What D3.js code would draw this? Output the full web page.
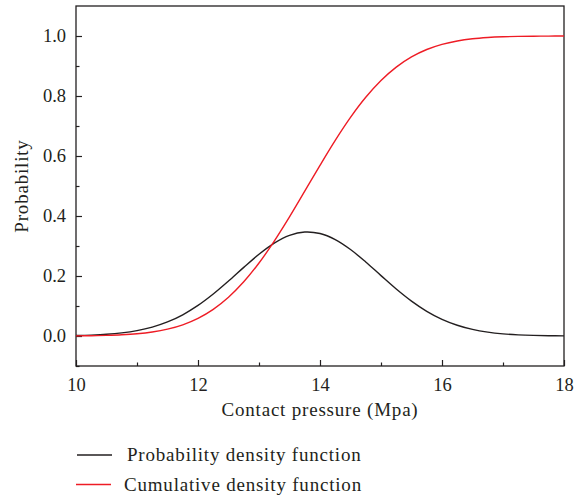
<!DOCTYPE html>
<html>
<head>
<meta charset="utf-8">
<script src="https://cdn.jsdelivr.net/npm/d3@7"></script>
<style>
  body { margin: 0; background: #fff; }
  text { font-family: "Liberation Serif", "DejaVu Serif", serif; fill: #231f20; }
  .label { font-size: 19px; letter-spacing: 0.8px; }
</style>
</head>
<body>
<div id="chart"></div>
<script>
// contact pressure (Mpa)
const pressure = [10, 10.25, 10.5, 10.75, 11, 11.25, 11.5, 11.75, 12, 12.25, 12.5, 12.75,
    13, 13.25, 13.5, 13.75, 14, 14.25, 14.5, 14.75, 15, 15.25, 15.5, 15.75,
    16, 16.25, 16.5, 16.75, 17, 17.25, 17.5, 17.75, 18];

// probability density function
const pdfValues = [0.0015, 0.0030, 0.0056, 0.0103, 0.0179, 0.0297, 0.0469, 0.0708, 0.1019,
    0.1399, 0.1831, 0.2287, 0.2723, 0.3094, 0.3353, 0.3466, 0.3417, 0.3213, 0.2882,
    0.2466, 0.2013, 0.1567, 0.1164, 0.0824, 0.0556, 0.0359, 0.0220, 0.0129, 0.0072,
    0.0039, 0.0020, 0.0010, 0.0004];

// cumulative density function
const cdfValues = [0.0005, 0.0010, 0.0021, 0.0040, 0.0074, 0.0133, 0.0228, 0.0373, 0.0588,
    0.0888, 0.1292, 0.1806, 0.2432, 0.3163, 0.3970, 0.4827, 0.5690, 0.6522, 0.7287,
    0.7956, 0.8516, 0.8963, 0.9303, 0.9550, 0.9721, 0.9834, 0.9906, 0.9948, 0.9973,
    0.9987, 0.9994, 0.9997, 0.9999];

const xTicks = [10, 12, 14, 16, 18];
const xMinorTicks = [11, 13, 15, 17];
const yTicks = [0.0, 0.2, 0.4, 0.6, 0.8, 1.0];
const yMinorTicks = [-0.1, 0.1, 0.3, 0.5, 0.7, 0.9];

const seriesNames = ["Probability density function", "Cumulative density function"];
const seriesColors = ["#231f20", "#ee1c25"];

const W = 576, H = 500;
const margin = {top: 6, right: 12, bottom: 134, left: 76};
const width = W - margin.left - margin.right;
const height = H - margin.top - margin.bottom;

const svg = d3.select("#chart").append("svg")
    .attr("width", W)
    .attr("height", H);

const g = svg.append("g")
    .attr("transform", `translate(${margin.left},${margin.top})`);

const x = d3.scaleLinear().domain([10, 18]).range([0, width]);
const y = d3.scaleLinear().domain([-0.1, 1.1]).range([height, 0]);

g.append("clipPath").attr("id", "clip")
    .append("rect").attr("width", width).attr("height", height);

// axes, ticks pointing inward
g.append("g")
    .attr("transform", `translate(0,${height})`)
    .call(d3.axisBottom(x).tickValues(xTicks).tickSize(-6).tickPadding(12).tickFormat(d3.format("d")));
g.append("g")
    .attr("transform", `translate(0,${height})`)
    .call(d3.axisBottom(x).tickValues(xMinorTicks).tickSize(-3.5).tickFormat(""));

g.append("g")
    .call(d3.axisLeft(y).tickValues(yTicks).tickSize(-6).tickPadding(10).tickFormat(d3.format(".1f")));
g.append("g")
    .call(d3.axisLeft(y).tickValues(yMinorTicks).tickSize(-3.5).tickFormat(""));

g.selectAll(".domain").remove();
g.selectAll(".tick line").attr("stroke", "#231f20").attr("stroke-width", 1.2);
g.selectAll(".tick text").style("font-size", "18.5px");

// frame
g.append("rect")
    .attr("width", width)
    .attr("height", height)
    .attr("fill", "none")
    .attr("stroke", "#231f20")
    .attr("stroke-width", 1.3);

// lines
const series = [pdfValues, cdfValues];
const line = d3.line()
    .x((d, i) => x(pressure[i]))
    .y(d => y(d))
    .curve(d3.curveCatmullRom);

series.forEach((vals, i) => {
    g.append("path")
        .datum(vals)
        .attr("clip-path", "url(#clip)")
        .attr("fill", "none")
        .attr("stroke", seriesColors[i])
        .attr("stroke-width", 1.4)
        .attr("d", line);
});

// axis titles
g.append("text")
    .attr("class", "label")
    .attr("x", width / 2)
    .attr("y", height + 50)
    .attr("text-anchor", "middle")
    .text("Contact pressure (Mpa)");

g.append("text")
    .attr("class", "label")
    .attr("transform", `translate(${-48},${height / 2}) rotate(-90)`)
    .attr("text-anchor", "middle")
    .text("Probability");

// legend
const legend = svg.append("g").attr("transform", "translate(77,455)");
seriesNames.forEach((name, i) => {
    const row = legend.append("g").attr("transform", `translate(${-i},${i * 29.5})`);
    row.append("line")
        .attr("x1", 0).attr("x2", 35)
        .attr("stroke", seriesColors[i])
        .attr("stroke-width", 1.4);
    row.append("text")
        .attr("class", "label")
        .attr("x", 50 - i * 2)
        .attr("y", 6)
        .text(name);
});
</script>
</body>
</html>
